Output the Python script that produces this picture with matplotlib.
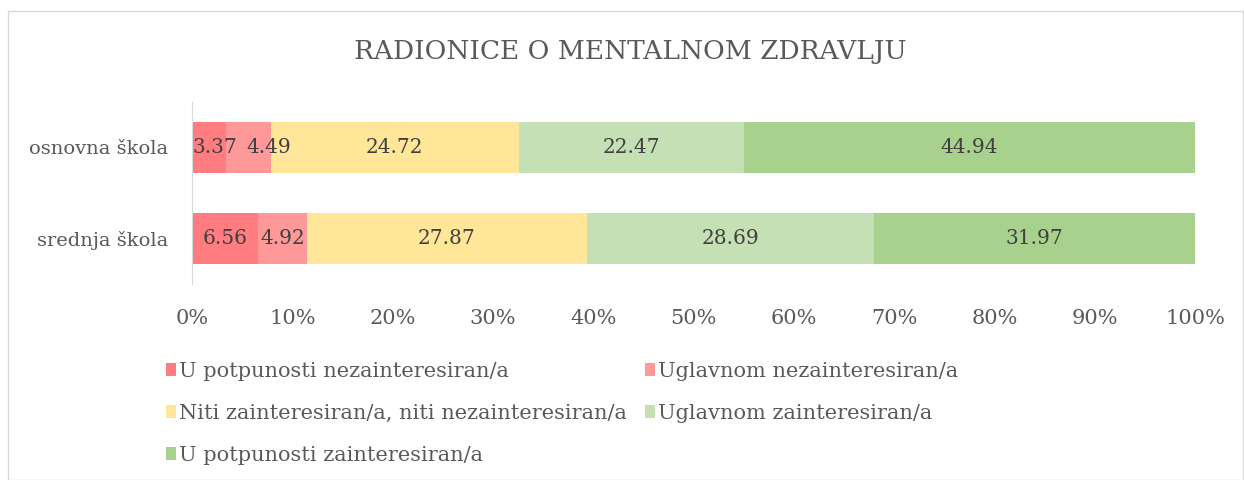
# Stacked 100% bar chart: interest in mental health workshops
import matplotlib.pyplot as plt
from matplotlib import patches
import numpy as np

plt.rcParams['font.family'] = ['DejaVu Serif']

# Data
categories = ["srednja škola", "osnovna škola"]
series_names = ["U potpunosti nezainteresiran/a",
                "Uglavnom nezainteresiran/a",
                "Niti zainteresiran/a, niti nezainteresiran/a",
                "Uglavnom zainteresiran/a",
                "U potpunosti zainteresiran/a"]
# values per series, ordered as categories (srednja, osnovna)
v_potpuno_ne = [6.56, 3.37]
v_uglavnom_ne = [4.92, 4.49]
v_niti = [27.87, 24.72]
v_uglavnom_da = [28.69, 22.47]
v_potpuno_da = [31.97, 44.94]
series_values = [v_potpuno_ne, v_uglavnom_ne, v_niti, v_uglavnom_da, v_potpuno_da]
colors = ["#FF7C80", "#FF9999", "#FFE699", "#C5E0B4", "#A9D18E"]
xticks = np.arange(0, 101, 10)

# label nudges (in % units) for segments too narrow to hold their label
nudges = [[0, 0.6], [0, 2.0], [0, 0], [0, 0], [0, 0]]

fig = plt.figure(figsize=(12.44, 4.8), dpi=100)
ax = fig.add_axes([192/1244, 1 - 284/480, (1195-192)/1244, 182/480])

y = np.arange(len(categories))
left = np.zeros(len(categories))
handles = []
for name, vals, col, nud in zip(series_names, series_values, colors, nudges):
    vals = np.array(vals)
    bars = ax.barh(y, vals, left=left, height=0.57, color=col, label=name)
    handles.append(bars)
    for yi, l, v, dx in zip(y, left, vals, nud):
        ax.text(l + v/2 + dx, yi, f"{v:.2f}", ha='center', va='center',
                fontsize=14.5, color='#404040')
    left += vals

ax.set_xlim(0, 100)
ax.set_ylim(-0.5, 1.5)
ax.set_xticks(xticks)
ax.set_xticklabels([f"{t}%" for t in xticks], fontsize=15)
ax.set_yticks(y)
ax.set_yticklabels(categories, fontsize=14)
ax.tick_params(axis='both', length=0, labelcolor='#595959')
ax.tick_params(axis='x', pad=18)
ax.tick_params(axis='y', pad=17)
for s in ['top', 'right', 'bottom']:
    ax.spines[s].set_visible(False)
ax.spines['left'].set_color('#D9D9D9')

fig.text(630/1244, 1 - 52/480, "RADIONICE O MENTALNOM ZDRAVLJU",
         ha='center', va='center', fontsize=19, color='#595959')

# legend in row-major order
order = [0, 2, 4, 1, 3]
leg = fig.legend([handles[i] for i in order], [series_names[i] for i in order],
                 ncol=2, loc='upper left', bbox_to_anchor=(147/1244, 1 - 343/480),
                 frameon=False, fontsize=15, handlelength=0.5, handleheight=0.6,
                 handletextpad=0.15, columnspacing=0.85, labelspacing=1.1,
                 labelcolor='#595959')

# outer chart border
fig.add_artist(patches.Rectangle((8/1244, 0), (1243-8)/1244, 1 - 11/480,
                                 transform=fig.transFigure, fill=False,
                                 edgecolor='#D9D9D9', linewidth=1))

fig.savefig("out.png", dpi=100)
